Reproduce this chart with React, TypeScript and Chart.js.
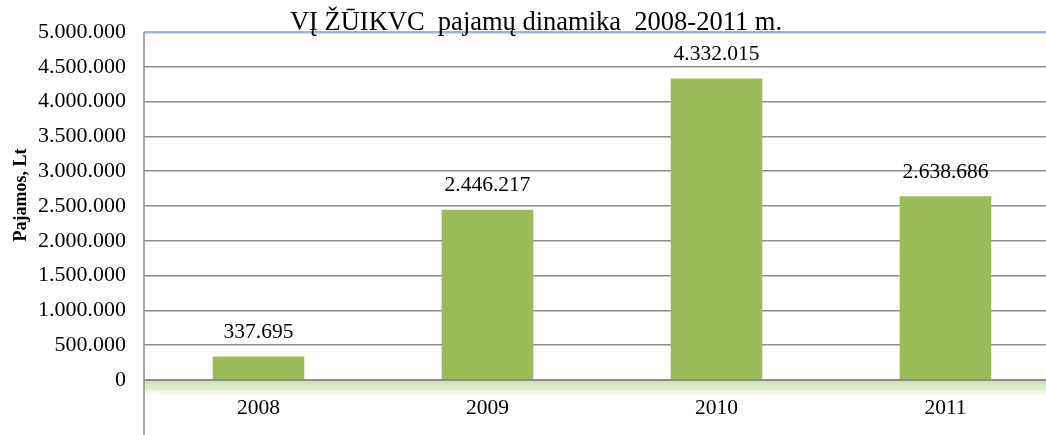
import React, { useEffect, useRef } from "react";
import { Chart, registerables } from "chart.js";

Chart.register(...registerables);

const categories = ["2008", "2009", "2010", "2011"];
const revenue = [337695, 2446217, 4332015, 2638686];
const yMin = 0;
const yMax = 5000000;
const yStep = 500000;
const titleText = "VĮ ŽŪIKVC  pajamų dinamika  2008-2011 m.";
const yTitleText = "Pajamos, Lt";

const SERIF = "'Liberation Serif', 'Times New Roman', serif";

const fmt = (v: number) =>
  Math.round(v)
    .toString()
    .replace(/\B(?=(\d{3})+(?!\d))/g, ".");

const decorPlugin = {
  id: "decor",
  beforeDatasetsDraw(chart: any) {
    const { ctx, chartArea } = chart;
    const yScale = chart.scales.y;
    const y0 = yScale.getPixelForValue(0);
    ctx.save();
    const g = ctx.createLinearGradient(0, y0 + 1, 0, y0 + 18);
    g.addColorStop(0, "rgb(208,224,178)");
    g.addColorStop(0.45, "rgb(226,237,208)");
    g.addColorStop(1, "rgba(255,255,255,0)");
    ctx.fillStyle = g;
    ctx.fillRect(chartArea.left, y0 + 1, chartArea.right - chartArea.left, 17);
    ctx.restore();
  },
  afterDatasetsDraw(chart: any) {
    const { ctx, chartArea } = chart;
    const meta = chart.getDatasetMeta(0);
    ctx.save();
    ctx.font = `21.5px ${SERIF}`;
    ctx.fillStyle = "#000";
    ctx.textAlign = "center";
    ctx.textBaseline = "middle";
    meta.data.forEach((bar: any, i: number) => {
      ctx.fillText(fmt(revenue[i]), bar.x, bar.y - 24);
    });
    // left axis line
    ctx.strokeStyle = "#8c8c8c";
    ctx.lineWidth = 1.5;
    ctx.beginPath();
    ctx.moveTo(chartArea.left, chartArea.top);
    ctx.lineTo(chartArea.left, chart.height);
    ctx.stroke();
    // title
    ctx.font = `26.5px ${SERIF}`;
    ctx.textBaseline = "alphabetic";
    ctx.fillText(titleText, 536, 30);
    // y title
    ctx.translate(21, 195);
    ctx.rotate(-Math.PI / 2);
    ctx.font = `bold 18px ${SERIF}`;
    ctx.textBaseline = "middle";
    ctx.fillText(yTitleText, 0, 0);
    ctx.restore();
  },
};

export default function App() {
  const ref = useRef<HTMLCanvasElement | null>(null);
  useEffect(() => {
    if (!ref.current) return;
    const chart = new Chart(ref.current, {
      type: "bar",
      data: {
        labels: categories,
        datasets: [
          {
            data: revenue,
            backgroundColor: "#9BBB59",
            borderWidth: 0,
            barPercentage: 0.4,
            categoryPercentage: 1,
          },
        ],
      },
      options: {
        responsive: false,
        animation: false,
        layout: { padding: { top: 32, left: 0, right: 2, bottom: 0 } },
        plugins: {
          legend: { display: false },
          tooltip: { enabled: false },
          title: { display: false },
        },
        scales: {
          x: {
            grid: { display: false, drawTicks: false },
            border: { display: false },
            ticks: {
              color: "#000",
              font: { family: SERIF, size: 21.5 },
              padding: 15,
            },
            afterFit(scale: any) {
              scale.height = 55;
            },
          },
          y: {
            min: yMin,
            max: yMax,
            grid: {
              drawTicks: false,
              color: (c: any) =>
                c.tick && c.tick.value === yMax ? "#9db3db" : "#8c8c8c",
              lineWidth: (c: any) =>
                c.tick && c.tick.value === yMax ? 2.5 : c.tick && c.tick.value === 0 ? 2 : 1.5,
            },
            border: { display: false },
            ticks: {
              stepSize: yStep,
              color: "#000",
              font: { family: SERIF, size: 22 },
              padding: 18,
              callback: (v: any) => fmt(Number(v)),
            },
            afterFit(scale: any) {
              scale.width = 144;
            },
          },
        },
      },
      plugins: [decorPlugin],
    });
    return () => chart.destroy();
  }, []);
  return (
    <div
      style={{
        position: "fixed",
        left: 0,
        top: 0,
        width: 1046,
        height: 435,
        overflow: "hidden",
        background: "#fff",
      }}
    >
      <canvas ref={ref} width={1062} height={435} style={{ display: "block" }} />
    </div>
  );
}
